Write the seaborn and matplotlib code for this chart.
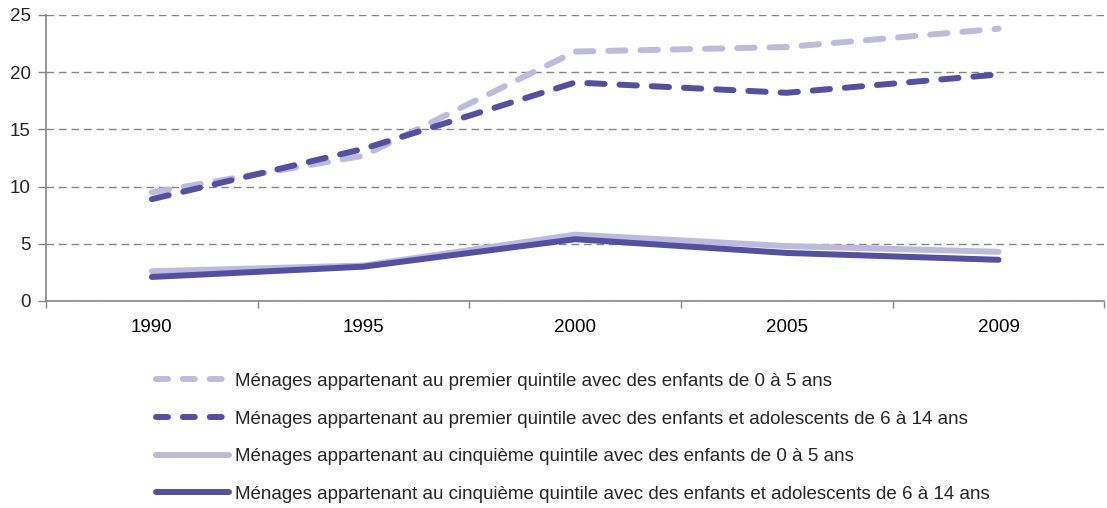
import numpy as np
import pandas as pd
import seaborn as sns
import matplotlib.pyplot as plt
from matplotlib.lines import Line2D
from matplotlib.ticker import FixedLocator

years = ["1990", "1995", "2000", "2005", "2009"]
prem_0_5 = [9.5, 12.7, 21.8, 22.2, 23.8]
prem_6_14 = [8.9, 13.3, 19.1, 18.2, 19.8]
cinq_0_5 = [2.6, 3.1, 5.8, 4.8, 4.3]
cinq_6_14 = [2.1, 3.0, 5.4, 4.2, 3.6]

labels = [
    "Ménages appartenant au premier quintile avec des enfants de 0 à 5 ans",
    "Ménages appartenant au premier quintile avec des enfants et adolescents de 6 à 14 ans",
    "Ménages appartenant au cinquième quintile avec des enfants de 0 à 5 ans",
    "Ménages appartenant au cinquième quintile avec des enfants et adolescents de 6 à 14 ans",
]
light = "#BDBADD"
dark = "#5350A3"
colors = dict(zip(labels, [light, dark, light, dark]))
dashes = dict(zip(labels, [(2.9, 2.5), (2.9, 2.5), "", ""]))

rows = []
for lab, vals in zip(labels, [prem_0_5, prem_6_14, cinq_0_5, cinq_6_14]):
    for i, v in enumerate(vals):
        rows.append({"pos": i, "val": v, "serie": lab})
df = pd.DataFrame(rows)

sns.set_style("white")
plt.rcParams['font.family'] = ['Liberation Sans', 'DejaVu Sans']
fs = 13.5

fig = plt.figure(figsize=(11.07, 5.08), dpi=100)
ax = fig.add_axes([0.0416, 0.4075, 0.956, 0.563])

sns.lineplot(data=df, x="pos", y="val", hue="serie", style="serie",
             hue_order=labels, style_order=labels, palette=colors,
             dashes=dashes, linewidth=4.3, legend=False, ax=ax)
for ln in ax.lines:
    ln.set_dash_capstyle("round")
    ln.set_solid_capstyle("round")

ax.set_xlim(-0.5, 4.5)
ax.set_ylim(0, 25)
ax.set_yticks(range(0, 26, 5))
ax.set_xticks(range(5))
ax.set_xticklabels(years)
ax.xaxis.set_minor_locator(FixedLocator(np.arange(-0.5, 4.6, 1)))
ax.tick_params(axis="x", which="major", length=0, pad=13, labelsize=fs, colors="black")
ax.tick_params(axis="x", which="minor", length=5, width=1, color="#868686", direction="out", bottom=True)
ax.tick_params(axis="y", length=6, width=1, color="#868686", direction="out", left=True, labelsize=fs, pad=5)
ax.set_xlabel("")
ax.set_ylabel("")
ax.yaxis.grid(True, color="#868686", linestyle=(0, (5.5, 3.5)), linewidth=1)
ax.set_axisbelow(True)
for s in ["top", "right"]:
    ax.spines[s].set_visible(False)
for s in ["left", "bottom"]:
    ax.spines[s].set_color("#868686")
    ax.spines[s].set_linewidth(1.2)

# legend handles: shorter dashes than in the plot
handles = []
for lab in labels:
    h = Line2D([], [], color=colors[lab], linewidth=4.3,
               solid_capstyle="round", dash_capstyle="round")
    if dashes[lab]:
        h.set_dashes((2.0, 2.5))
    handles.append(h)
fig.legend(handles, labels, loc="upper left", bbox_to_anchor=(0.141, 0.266),
           frameon=False, handlelength=3.9, handletextpad=0.33,
           labelspacing=1.09, borderpad=0, borderaxespad=0, fontsize=fs)

fig.savefig("out.png", dpi=100)
